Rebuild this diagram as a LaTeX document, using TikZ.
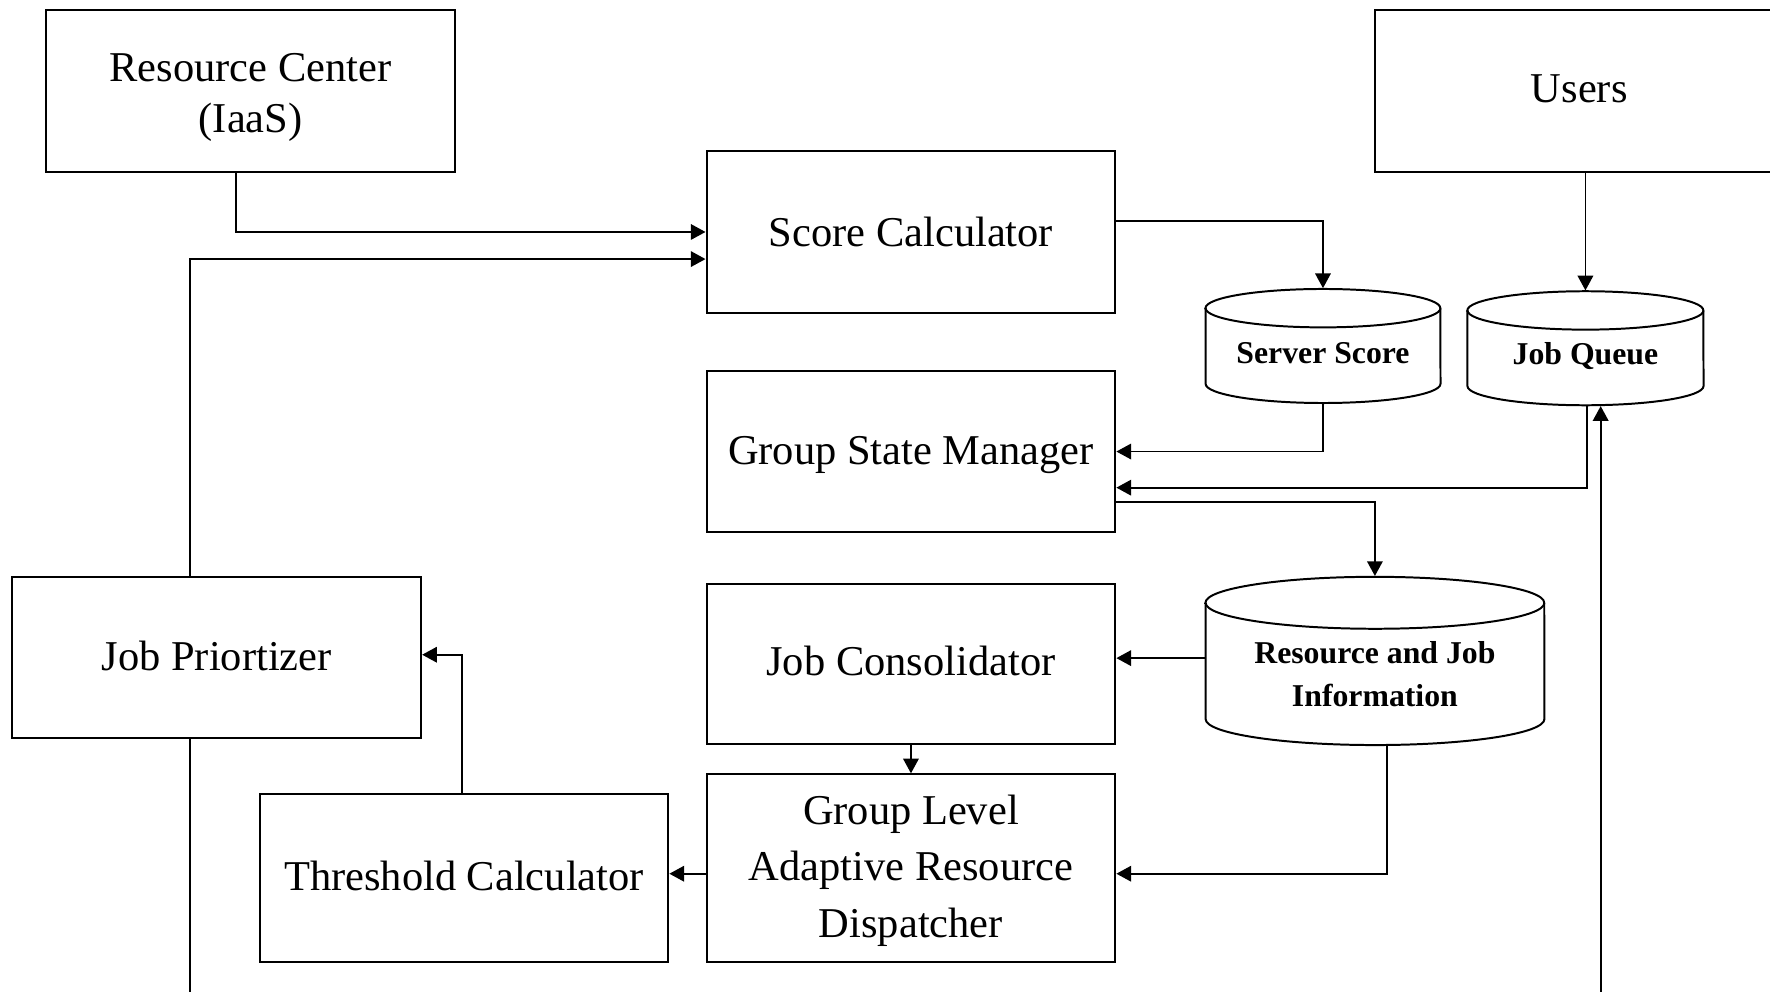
\documentclass[tikz,border=0pt]{standalone}
\usepackage{fontspec}
\setmainfont{Liberation Serif}
\usetikzlibrary{arrows.meta,calc}
% move a line of text up or down without changing its box
\newcommand\nudge[2]{\raisebox{#1}[\height][\depth]{#2}}
\begin{document}
\begin{tikzpicture}[x=0.01cm,y=0.01cm,
  box/.style={draw,line width=0.5pt,minimum width=3.62cm,inner sep=0pt,align=center,
              font=\fontsize{10.7}{12.84}\selectfont},
  cylslot/.style={inner sep=0pt},
  dbtext/.style={align=center,inner sep=0pt,font=\fontsize{8}{10.8}\selectfont\bfseries},
  cylline/.style={line width=0.5pt},
  conn/.style={line width=0.45pt,-{Triangle[length=3.7pt,width=3.9pt]}},
  plain/.style={line width=0.45pt}]
\useasboundingbox (0,0) rectangle (1568,-878);
\clip (0,0) rectangle (1568,-878);

% process boxes
\node[box,minimum height=1.43cm] (rc) at (222,-80.5)
  {\nudge{-1.6pt}{Resource Center}\\\nudge{-1.6pt}{(IaaS)}};
\node[box,minimum height=1.43cm] (users) at (1399,-80.5) {\nudge{0.5pt}{Users}};
\node[box,minimum height=1.43cm] (sc) at (807,-205.5) {Score Calculator};
\node[box,minimum height=1.42cm] (gsm) at (807,-400) {\nudge{-0.8pt}{Group State Manager}};
\node[box,minimum height=1.42cm] (jc) at (807,-588) {\nudge{0.8pt}{Job Consolidator}};
\node[box,minimum height=1.66cm,font=\fontsize{10.7}{14.2}\selectfont] (gl) at (807,-769)
  {\nudge{-0.6pt}{Group Level}\\\nudge{-0.6pt}{Adaptive Resource}\\\nudge{-0.6pt}{Dispatcher}};
\node[box,minimum height=1.43cm] (jp) at (192,-582.5) {\nudge{0.5pt}{Job Priortizer}};
\node[box,minimum height=1.49cm] (tc) at (411,-777.5) {\nudge{0.5pt}{Threshold Calculator}};

% data stores: slots for anchoring plus their labels
\node[cylslot,minimum width=2.08cm,minimum height=1.01cm] (ss) at (1172,-306.5) {};
\node[dbtext] (ss-t) at ($(ss.center)+(0,-6.5)$) {Server Score};
\node[cylslot,minimum width=2.09cm,minimum height=1.01cm] (jq) at (1404.5,-308.5) {};
\node[dbtext] (jq-t) at ($(jq.center)+(0,-7)$) {Job Queue};
\node[cylslot,minimum width=3.00cm,minimum height=1.49cm] (rji) at (1218,-585.5) {};
\node[dbtext] (rji-t) at ($(rji.center)+(0,-11.5)$) {Resource and Job\\Information};

% cylinder outlines
\draw[cylline] (1068,-273) -- (1068,-340)
  arc[start angle=180,end angle=360,x radius=1.04cm,y radius=0.17cm] -- (1276,-273)
  arc[start angle=0,end angle=180,x radius=1.04cm,y radius=0.17cm] -- cycle;
\draw[cylline] (1068,-273) arc[start angle=180,end angle=360,x radius=1.04cm,y radius=0.17cm];
\draw[cylline] (1300,-275) -- (1300,-342)
  arc[start angle=180,end angle=360,x radius=1.045cm,y radius=0.17cm] -- (1509,-275)
  arc[start angle=0,end angle=180,x radius=1.045cm,y radius=0.17cm] -- cycle;
\draw[cylline] (1300,-275) arc[start angle=180,end angle=360,x radius=1.045cm,y radius=0.17cm];
\draw[cylline] (1068,-534) -- (1068,-637)
  arc[start angle=180,end angle=360,x radius=1.5cm,y radius=0.23cm] -- (1368,-534)
  arc[start angle=0,end angle=180,x radius=1.5cm,y radius=0.23cm] -- cycle;
\draw[cylline] (1068,-534) arc[start angle=180,end angle=360,x radius=1.5cm,y radius=0.23cm];

% connectors
\draw[conn] ($(rc.south)+(-13,0)$) |- (sc.west);
\draw[conn] ($(jp.north)+(-24,0)$) |- ($(sc.west)+(0,-24)$);
\draw[conn] ($(sc.east)+(0,9.5)$) -| (ss.north);
\draw[conn] (users.south -| jq.north) -- (jq.north);
\draw[conn] (ss.south) |- (gsm.east);
\draw[conn] ($(jq.south)+(1.5,0)$) |- ($(gsm.east)+(0,-32)$);
\draw[conn] ($(gsm.east)+(0,-45)$) -| (rji.north);
\draw[conn] ($(rji.west)+(0,2.5)$) -- ($(rji.west -| jc.east)+(0,2.5)$);
\draw[conn] (jc.south) -- (gl.north);
\draw[conn] ($(rji.south)+(11,0)$) |- ($(gl.east)+(0,-5)$);
\draw[conn] ($(gl.west)+(0,-5)$) -- ($(gl.west -| tc.east)+(0,-5)$);
\draw[conn] ($(tc.north)+(-2,0)$) |- ($(jp.east)+(0,2.5)$);

% lines leaving the lower edge
\coordinate (jp-out) at (168,-900);
\coordinate (jq-in) at (1418,-900);
\draw[plain] (jp.south -| jp-out) -- (jp-out);
\draw[conn] (jq-in) -- (jq-in |- jq.south);
\end{tikzpicture}
\end{document}
